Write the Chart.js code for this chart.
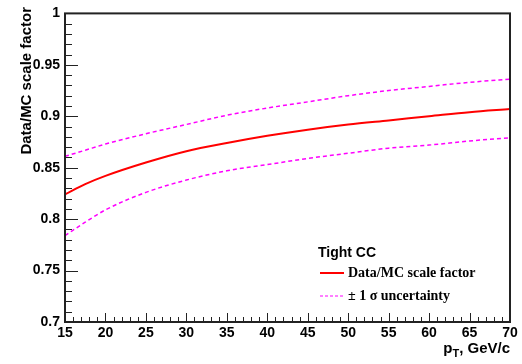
<!DOCTYPE html>
<html>
<head>
<meta charset="utf-8">
<script src="https://cdn.jsdelivr.net/npm/chart.js@4.4.1/dist/chart.umd.min.js"></script>
<style>
  html, body { margin: 0; padding: 0; background: #fff; }
  #wrap { width: 522px; height: 364px; }
</style>
</head>
<body>
<div id="wrap"><canvas id="sfChart" width="522" height="364"></canvas></div>
<script>
const ctx = document.getElementById('sfChart');

// pT points (GeV/c)
const ptValues = [15, 17.5, 20, 25, 30, 35, 40, 45, 50, 55, 60, 65, 70];
// Data/MC scale factor
const sfCentral = [0.824, 0.834, 0.842, 0.855, 0.866, 0.874, 0.881, 0.887, 0.892, 0.896, 0.900, 0.904, 0.907];
// +1 sigma
const sfUpper = [0.861, 0.867, 0.873, 0.883, 0.892, 0.901, 0.908, 0.914, 0.920, 0.925, 0.929, 0.933, 0.936];
// -1 sigma
const sfLower = [0.784, 0.797, 0.809, 0.826, 0.838, 0.847, 0.853, 0.859, 0.864, 0.869, 0.872, 0.876, 0.879];

const xTicks = [15, 20, 25, 30, 35, 40, 45, 50, 55, 60, 65, 70];
const yTicks = [0.7, 0.75, 0.8, 0.85, 0.9, 0.95, 1];

const legendTitle = 'Tight CC';
const legendLabels = ['Data/MC scale factor', '\u00b1 1 \u03c3 uncertainty'];

const toXY = arr => arr.map((v, i) => ({ x: ptValues[i], y: v }));

// ROOT-like frame, inward ticks, titles and legend
const rootStyle = {
  id: 'rootStyle',
  afterDraw(chart) {
    const c = chart.ctx;
    const { left, right, top, bottom } = chart.chartArea;
    const xs = chart.scales.x, ys = chart.scales.y;
    c.save();

    // ticks
    c.strokeStyle = '#222';
    c.lineWidth = 1;
    c.beginPath();
    for (let v = 15; v <= 70.001; v += 1) {
      const px = Math.round(xs.getPixelForValue(v)) + 0.5;
      const len = (Math.round(v) % 5 === 0) ? 9 : 5;
      c.moveTo(px, bottom);
      c.lineTo(px, bottom - len);
    }
    for (let k = 70; k <= 100; k += 1) {
      const py = Math.round(ys.getPixelForValue(k / 100)) + 0.5;
      const len = (k % 5 === 0) ? 13 : 7;
      c.moveTo(left, py);
      c.lineTo(left + len, py);
    }
    c.stroke();

    // frame
    c.lineWidth = 2;
    c.strokeStyle = '#222';
    c.strokeRect(left, top, right - left, bottom - top);

    // y title
    c.fillStyle = '#000';
    c.font = 'bold 15px "Liberation Sans", Arial, sans-serif';
    c.save();
    c.translate(31, 7);
    c.rotate(-Math.PI / 2);
    c.textAlign = 'right';
    c.textBaseline = 'alphabetic';
    c.fillText('Data/MC scale factor', 0, 0);
    c.restore();

    // x title  p_T, GeV/c
    c.textBaseline = 'alphabetic';
    c.textAlign = 'left';
    const tail = ', GeV/c';
    c.font = 'bold 15px "Liberation Sans", Arial, sans-serif';
    const wP = c.measureText('p').width;
    const wTail = c.measureText(tail).width;
    c.font = 'bold 11px "Liberation Sans", Arial, sans-serif';
    const wT = c.measureText('T').width;
    let x0 = right - (wP + wT + wTail);
    const yb = 353;
    c.font = 'bold 15px "Liberation Sans", Arial, sans-serif';
    c.fillText('p', x0, yb);
    c.font = 'bold 11px "Liberation Sans", Arial, sans-serif';
    c.fillText('T', x0 + wP, yb + 4);
    c.font = 'bold 15px "Liberation Sans", Arial, sans-serif';
    c.fillText(tail, x0 + wP + wT, yb);

    // legend
    c.textBaseline = 'middle';
    c.font = 'bold 14px "Liberation Sans", Arial, sans-serif';
    c.fillText(legendTitle, 318, 253);
    c.font = 'bold 14px "Liberation Serif", "Times New Roman", serif';
    c.fillText(legendLabels[0], 348, 273);
    c.fillText(legendLabels[1], 348, 296);
    c.lineWidth = 2;
    c.strokeStyle = '#ff0000';
    c.beginPath();
    c.moveTo(320, 273);
    c.lineTo(344, 273);
    c.stroke();
    c.lineWidth = 1.2;
    c.strokeStyle = '#ff00ff';
    c.setLineDash([3, 2]);
    c.beginPath();
    c.moveTo(320, 296);
    c.lineTo(344, 296);
    c.stroke();
    c.restore();
  }
};

const chart = new Chart(ctx, {
  type: 'line',
  data: {
    datasets: [
      {
        label: legendLabels[0],
        data: toXY(sfCentral),
        borderColor: '#ff0000',
        borderWidth: 2,
        pointRadius: 0,
        cubicInterpolationMode: 'monotone',
      },
      {
        label: legendLabels[1],
        data: toXY(sfUpper),
        borderColor: '#ff00ff',
        borderWidth: 1.5,
        borderDash: [4, 3],
        pointRadius: 0,
        cubicInterpolationMode: 'monotone',
      },
      {
        label: legendLabels[1],
        data: toXY(sfLower),
        borderColor: '#ff00ff',
        borderWidth: 1.5,
        borderDash: [4, 3],
        pointRadius: 0,
        cubicInterpolationMode: 'monotone',
      },
    ],
  },
  options: {
    responsive: false,
    animation: false,
    layout: { padding: { top: 5, right: 12, left: 0, bottom: 0 } },
    plugins: { legend: { display: false }, tooltip: { enabled: false } },
    scales: {
      x: {
        type: 'linear',
        min: 15,
        max: 70,
        afterFit: s => { s.height = 42; },
        afterBuildTicks: s => { s.ticks = xTicks.map(v => ({ value: v })); },
        grid: { display: false, drawTicks: false },
        border: { display: false },
        ticks: {
          color: '#000',
          padding: 3,
          maxRotation: 0,
          font: { family: '"Liberation Sans", Arial, sans-serif', size: 14, weight: 'bold' },
        },
      },
      y: {
        min: 0.7,
        max: 1,
        afterFit: s => { s.width = 65; },
        afterBuildTicks: s => { s.ticks = yTicks.map(v => ({ value: v })); },
        grid: { display: false, drawTicks: false },
        border: { display: false },
        ticks: {
          color: '#000',
          padding: 5,
          callback: v => String(+v.toFixed(2)),
          font: { family: '"Liberation Sans", Arial, sans-serif', size: 14, weight: 'bold' },
        },
      },
    },
  },
  plugins: [rootStyle],
});
</script>
</body>
</html>
